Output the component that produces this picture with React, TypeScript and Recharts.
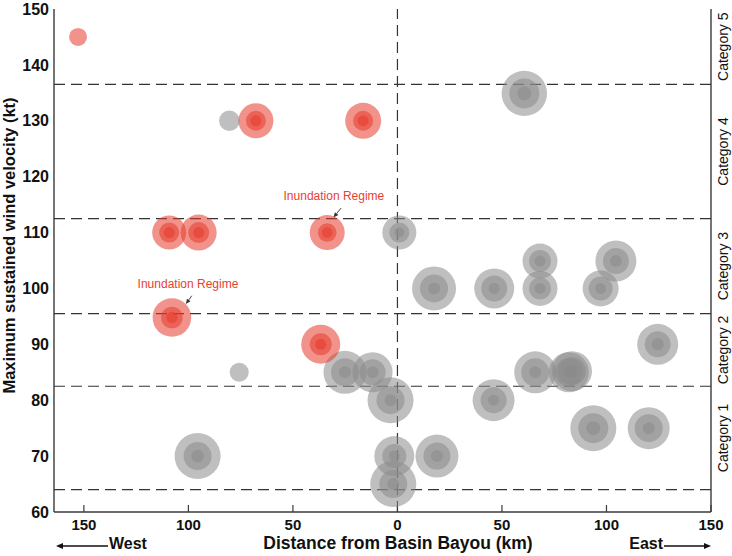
import {
  ScatterChart,
  Scatter,
  XAxis,
  YAxis,
  ReferenceLine,
  ReferenceDot,
} from "recharts";

// storm positions (km from Basin Bayou, west negative) and max wind (kt),
// with the three wind-radius rings of each storm (outer, middle, inner)
const grayStorms = [
  { x: -80.4, y: 130, r: [10.3, 0, 0] },
  { x: -75.7, y: 85, r: [9.5, 0, 0] },
  { x: -95.6, y: 70, r: [23, 14, 6.3] },
  { x: -25.1, y: 85, r: [21.5, 14, 6] },
  { x: -11.9, y: 85, r: [20, 13, 6] },
  { x: -3.3, y: 80, r: [23, 14, 6] },
  { x: -1.5, y: 70, r: [20, 12, 5.5] },
  { x: -2.0, y: 65, r: [23, 14, 6] },
  { x: 0.9, y: 110, r: [17, 10, 5] },
  { x: 17.5, y: 100, r: [22, 14, 6] },
  { x: 18.9, y: 70, r: [21.5, 13.5, 6] },
  { x: 46.3, y: 100, r: [20, 13, 5.5] },
  { x: 46.0, y: 80, r: [21, 13, 5.5] },
  { x: 60.7, y: 134.9, r: [22.7, 15, 7] },
  { x: 65.9, y: 85, r: [21, 14, 6] },
  { x: 68.2, y: 104.9, r: [17.5, 11, 5.5] },
  { x: 68.2, y: 100, r: [17.5, 11, 5.5] },
  { x: 82.0, y: 85, r: [20, 14, 6] },
  { x: 83.5, y: 85.2, r: [20, 14, 6] },
  { x: 93.7, y: 75, r: [23, 15, 7] },
  { x: 97.2, y: 100, r: [18, 12, 5.5] },
  { x: 104.5, y: 104.9, r: [20.5, 13, 6] },
  { x: 120.2, y: 75, r: [21, 14, 6] },
  { x: 124.5, y: 90, r: [20.5, 13, 6] },
];

const redStorms = [
  { x: -152.8, y: 145, r: [9, 0, 0] },
  { x: -109.2, y: 110, r: [17, 10, 5.5] },
  { x: -95.1, y: 110, r: [18, 10.5, 5.5] },
  { x: -107.9, y: 94.8, r: [19.3, 10.8, 5.7] },
  { x: -67.7, y: 130, r: [17.5, 10, 5.5] },
  { x: -33.6, y: 110, r: [17.5, 9.3, 5.3] },
  { x: -36.7, y: 90, r: [19.5, 11, 5.5] },
  { x: -16.4, y: 130, r: [18, 10, 5.5] },
];

const xTicks = [-150, -100, -50, 0, 50, 100, 150];
const yTicks = [60, 70, 80, 90, 100, 110, 120, 130, 140, 150];

// Saffir-Simpson break points (kt) and the category names between them
const categoryBreaks = [64, 82.5, 95.5, 112.5, 136.5, 150];
const categoryNames = ["Category 1", "Category 2", "Category 3", "Category 4", "Category 5"];
const categoryMids = categoryNames.map((_, i) => (categoryBreaks[i] + categoryBreaks[i + 1]) / 2);

const annotations = [
  { text: "Inundation Regime", x: -30.4, y: 115.8, from: [-26.9, 114.4], to: [-30.6, 112.7] },
  { text: "Inundation Regime", x: -100.2, y: 100.1, from: [-98.4, 98.7], to: [-101.2, 97.2] },
];

const FONT = "'Liberation Sans', Arial, Helvetica, sans-serif";
const AXIS = "#3a3a3a";

const bubble = (color: string) => (props: any) => {
  const { cx, cy, payload } = props;
  return (
    <g>
      {payload.r
        .filter((r: number) => r > 0)
        .map((r: number, i: number) => (
          <circle key={i} cx={cx} cy={cy} r={r} fill={color} fillOpacity={0.55} />
        ))}
    </g>
  );
};

const Arrow = (p: any) => {
  const { x1, y1, x2, y2 } = p;
  const a = Math.atan2(y2 - y1, x2 - x1);
  const L = 5;
  const W = 2.2;
  const bx = x2 - L * Math.cos(a);
  const by = y2 - L * Math.sin(a);
  const pts = `${x2},${y2} ${bx - W * Math.sin(a)},${by + W * Math.cos(a)} ${bx + W * Math.sin(a)},${by - W * Math.cos(a)}`;
  return (
    <g>
      <line x1={x1} y1={y1} x2={bx} y2={by} stroke="#333" strokeWidth={0.9} />
      <polygon points={pts} fill="#333" />
    </g>
  );
};

const CategoryTick = (props: any) => {
  const { x, y, payload } = props;
  const idx = categoryMids.indexOf(payload.value);
  return (
    <text
      transform={`translate(${x + 17},${y}) rotate(-90)`}
      textAnchor="middle"
      fontSize={14}
      fontFamily={FONT}
      fill="#111"
    >
      {categoryNames[idx]}
    </text>
  );
};

const XTitle = (props: any) => {
  const { viewBox } = props;
  const { x, y, width } = viewBox;
  const base = y + 37;
  const ay = y + 34;
  return (
    <g fontFamily={FONT} fontWeight="bold" fontSize={16} fill="#111">
      <line x1={x + 7} y1={ay} x2={x + 54} y2={ay} stroke="#111" strokeWidth={1.3} />
      <polygon points={`${x + 2},${ay} ${x + 9},${ay - 3} ${x + 9},${ay + 3}`} fill="#111" />
      <text x={x + 55} y={base} textAnchor="start">West</text>
      <text x={x + 344} y={base} textAnchor="middle" fontSize={17.5}>
        Distance from Basin Bayou (km)
      </text>
      <text x={x + width - 48} y={base} textAnchor="end">East</text>
      <line x1={x + width - 47} y1={ay} x2={x + width - 5} y2={ay} stroke="#111" strokeWidth={1.3} />
      <polygon
        points={`${x + width},${ay} ${x + width - 7},${ay - 3} ${x + width - 7},${ay + 3}`}
        fill="#111"
      />
    </g>
  );
};

const YTitle = (props: any) => {
  const { viewBox } = props;
  const cy = viewBox.y + viewBox.height / 2 - 15;
  return (
    <text
      transform={`translate(15,${cy}) rotate(-90)`}
      textAnchor="middle"
      fontFamily={FONT}
      fontWeight="bold"
      fontSize={16.5}
      fill="#111"
    >
      Maximum sustained wind velocity (kt)
    </text>
  );
};

export default function App() {
  const tickFont = { fontFamily: FONT, fontWeight: "bold", fill: "#111" };
  return (
    <div style={{ position: "absolute", left: 0, top: 0, background: "#fff" }}>
      <ScatterChart width={732} height={556} margin={{ top: 9, right: 0, bottom: 0, left: 0 }}>
        <XAxis
          type="number"
          dataKey="x"
          domain={[-164.3, 150]}
          allowDataOverflow
          ticks={xTicks}
          interval={0}
          tickFormatter={(v: number) => String(Math.abs(v))}
          tick={{ ...tickFont, fontSize: 15 }}
          tickSize={-7}
          tickMargin={14}
          height={44}
          axisLine={{ stroke: AXIS, strokeWidth: 1.4 }}
          tickLine={{ stroke: AXIS, strokeWidth: 1.2 }}
          label={{ content: XTitle }}
        />
        <XAxis
          xAxisId="top"
          orientation="top"
          type="number"
          dataKey="x"
          domain={[-164.3, 150]}
          allowDataOverflow
          ticks={xTicks}
          interval={0}
          tickFormatter={() => ""}
          tickSize={-7}
          height={0}
          axisLine={{ stroke: AXIS, strokeWidth: 1.4 }}
          tickLine={{ stroke: AXIS, strokeWidth: 1.2 }}
        />
        <YAxis
          type="number"
          dataKey="y"
          domain={[60, 150]}
          allowDataOverflow
          ticks={yTicks}
          interval={0}
          tick={{ ...tickFont, fontSize: 16 }}
          tickLine={false}
          tickSize={0}
          tickMargin={5}
          width={54}
          axisLine={{ stroke: AXIS, strokeWidth: 1.4 }}
          label={{ content: YTitle }}
        />
        <YAxis
          yAxisId="right"
          orientation="right"
          type="number"
          domain={[60, 150]}
          allowDataOverflow
          ticks={categoryMids}
          interval={0}
          tick={CategoryTick}
          tickLine={false}
          tickSize={0}
          tickMargin={0}
          width={21}
          axisLine={{ stroke: AXIS, strokeWidth: 1.4 }}
        />
        <Scatter data={grayStorms} shape={bubble("#8a8a8a")} isAnimationActive={false} />
        <Scatter data={redStorms} shape={bubble("#e53b2c")} isAnimationActive={false} />
        {categoryBreaks.slice(0, 5).map((b) => (
          <ReferenceLine key={b} y={b} stroke="#333" strokeWidth={1.2} strokeDasharray="11 6" />
        ))}
        <ReferenceLine x={0} stroke="#333" strokeWidth={1.2} strokeDasharray="11 6" />
        {annotations.map((a, i) => (
          <ReferenceLine
            key={"arr" + i}
            segment={[
              { x: a.from[0], y: a.from[1] },
              { x: a.to[0], y: a.to[1] },
            ]}
            shape={Arrow}
          />
        ))}
        {annotations.map((a, i) => (
          <ReferenceDot
            key={"txt" + i}
            x={a.x}
            y={a.y}
            r={0}
            shape={(p: any) => (
              <text x={p.cx} y={p.cy} textAnchor="middle" fontFamily={FONT} fontSize={12} fill="#e8412f">
                {a.text}
              </text>
            )}
          />
        ))}
      </ScatterChart>
    </div>
  );
}
